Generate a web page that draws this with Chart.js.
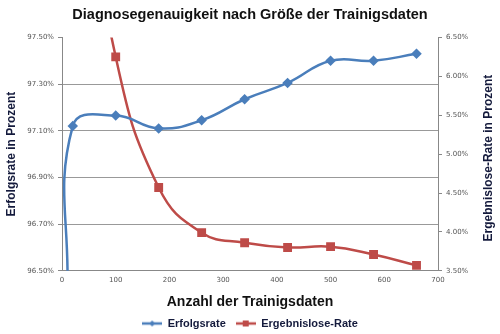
<!DOCTYPE html>
<html>
<head>
<meta charset="utf-8">
<script src="https://cdn.jsdelivr.net/npm/chart.js@4"></script>
<style>
  html, body { margin: 0; padding: 0; background: #fff; }
  #wrap { width: 500px; height: 334px; }
</style>
</head>
<body>
<div id="wrap"><canvas id="accuracyChart"></canvas></div>
<script>
// values
var erfolgX = [10, 20, 100, 180, 260, 340, 420, 500, 580, 660];
var erfolgsrate = [96.4, 97.12, 97.165, 97.11, 97.145, 97.235, 97.305, 97.40, 97.40, 97.43];
var ergebnisX = [20, 100, 180, 260, 340, 420, 500, 580, 660];
var ergebnisloseRate = [9.6, 6.25, 4.57, 3.99, 3.86, 3.80, 3.81, 3.71, 3.57];
var leftTicks = [96.5, 97.5, 0.2];   // min, max, step
var rightTicks = [3.5, 6.5, 0.5];
var xTicks = [0, 700, 100];

var BLUE = '#4a7ebb';
var RED = '#be4b48';
var NAVY = '#141a3c';
var FONT = 'Verdana, "DejaVu Sans", sans-serif';
var BOLD = 'Arial, "Liberation Sans", sans-serif';

function pts(xs, ys) {
  return xs.map(function (x, i) { return { x: x, y: ys[i] }; });
}

// legend symbol: line with marker in the middle, like the office legend
function legendIcon(color, shape) {
  var c = document.createElement('canvas');
  c.width = 20; c.height = 10;
  var g = c.getContext('2d');
  g.strokeStyle = color; g.lineWidth = 2.5;
  g.beginPath(); g.moveTo(0, 5); g.lineTo(20, 5); g.stroke();
  g.fillStyle = color;
  if (shape === 'square') {
    g.fillRect(7, 2, 6, 6);
  } else {
    g.beginPath(); g.moveTo(10, 2); g.lineTo(13, 5); g.lineTo(10, 8); g.lineTo(7, 5); g.closePath(); g.fill();
  }
  return c;
}

// right axis title reads bottom-to-top like the left one
var rightTitle = {
  id: 'rightTitle',
  afterDraw: function (ch) {
    var a = ch.chartArea, ctx = ch.ctx;
    ctx.save();
    ctx.translate(489, (a.top + a.bottom) / 2 + 4);
    ctx.rotate(-Math.PI / 2);
    ctx.fillStyle = NAVY;
    ctx.font = 'bold 12px ' + BOLD;
    ctx.textAlign = 'center';
    ctx.textBaseline = 'middle';
    ctx.fillText('Ergebnislose-Rate in Prozent', 0, 0);
    ctx.restore();
  }
};

var chart = new Chart("accuracyChart", {
  type: "line",
  data: {
    datasets: [
      {
        label: "Erfolgsrate",
        data: pts(erfolgX, erfolgsrate),
        yAxisID: 'y',
        borderColor: BLUE,
        backgroundColor: BLUE,
        borderWidth: 2.5,
        pointStyle: 'rectRot',
        pointRadius: 3.5,
        pointHoverRadius: 3.5,
        tension: 0.45,
        fill: false
      },
      {
        label: "Ergebnislose-Rate",
        data: pts(ergebnisX, ergebnisloseRate),
        yAxisID: 'y1',
        borderColor: RED,
        backgroundColor: RED,
        borderWidth: 2.5,
        pointStyle: 'rect',
        pointRadius: 4.5,
        pointHoverRadius: 4.5,
        tension: 0.45,
        fill: false
      }
    ]
  },
  plugins: [rightTitle],
  options: {
    responsive: true,
    maintainAspectRatio: false,
    animation: false,
    layout: { padding: { left: 4, right: 4, top: 0, bottom: -5 } },
    plugins: {
      title: {
        display: true,
        text: "Diagnosegenauigkeit nach Größe der Trainigsdaten",
        color: '#111',
        font: { family: BOLD, size: 14.5, weight: 'bold' },
        padding: { top: 6, bottom: 14 }
      },
      legend: {
        position: 'bottom',
        labels: {
          usePointStyle: true,
          pointStyleWidth: 20,
          color: NAVY,
          padding: 10,
          font: { family: BOLD, size: 11, weight: 'bold' },
          generateLabels: function (ch) {
            return ch.data.datasets.map(function (ds, i) {
              return {
                text: ds.label,
                pointStyle: legendIcon(ds.borderColor, i === 0 ? 'diamond' : 'square'),
                fillStyle: ds.borderColor,
                strokeStyle: ds.borderColor,
                fontColor: NAVY,
                lineWidth: 0,
                datasetIndex: i
              };
            });
          }
        }
      },
      tooltip: { enabled: false }
    },
    scales: {
      x: {
        type: 'linear',
        min: xTicks[0],
        max: xTicks[1],
        ticks: { stepSize: xTicks[2], color: '#555', font: { family: FONT, size: 7 }, padding: 5 },
        grid: { drawOnChartArea: false, drawTicks: false },
        border: { color: '#888' },
        title: {
          display: true,
          text: 'Anzahl der Trainigsdaten',
          color: '#111',
          font: { family: BOLD, size: 14, weight: 'bold' },
          padding: { top: 5, bottom: -3 }
        }
      },
      y: {
        position: 'left',
        min: leftTicks[0],
        max: leftTicks[1],
        ticks: {
          stepSize: leftTicks[2],
          color: '#555',
          font: { family: FONT, size: 7 },
          padding: 4,
          callback: function (v) { return v.toFixed(2) + '%'; }
        },
        grid: {
          color: function (c) { return c.tick && c.tick.value >= leftTicks[1] - 1e-6 ? 'rgba(0,0,0,0)' : '#999'; },
          tickColor: '#888',
          tickLength: 4
        },
        border: { color: '#888' },
        title: {
          display: true,
          text: 'Erfolgsrate in Prozent',
          color: NAVY,
          font: { family: BOLD, size: 12, weight: 'bold' },
          padding: { top: 0, bottom: 4 }
        },
        afterFit: function (s) { s.width = 58; }
      },
      y1: {
        position: 'right',
        min: rightTicks[0],
        max: rightTicks[1],
        ticks: {
          stepSize: rightTicks[2],
          color: '#555',
          font: { family: FONT, size: 7 },
          padding: 4,
          callback: function (v) { return v.toFixed(2) + '%'; }
        },
        grid: { drawOnChartArea: false, tickColor: '#888', tickLength: 4 },
        border: { color: '#888' },
        afterFit: function (s) { s.width = 58; }
      }
    }
  }
});
</script>
</body>
</html>
